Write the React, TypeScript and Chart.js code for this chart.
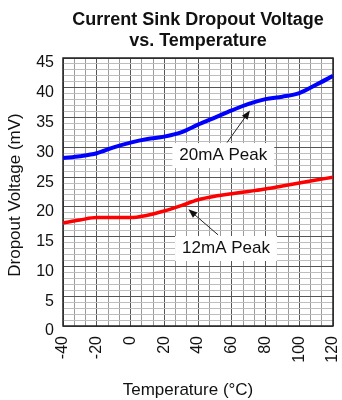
import { useEffect, useRef } from "react";
import { Chart, registerables } from "chart.js";

Chart.register(...registerables);

const FONT = '"Liberation Sans", Arial, Helvetica, sans-serif';

const titleLines = ["Current Sink Dropout Voltage", "vs. Temperature"];
const xAxisTitle = "Temperature (°C)";
const yAxisTitle = "Dropout Voltage (mV)";

const xMajorTicks = [-40, -20, 0, 20, 40, 60, 80, 100, 120];
const xMinorPerMajor = 3;
const yMajorTicks = [0, 5, 10, 15, 20, 25, 30, 35, 40, 45];
const yMinorPerMajor = 5;

const temps20 = [-40, -30, -20, -10, 0, 10, 20, 30, 40, 50, 60, 70, 80, 90, 100, 110, 120];
const peak20 = [28.2, 28.5, 29.0, 30.0, 30.8, 31.4, 31.8, 32.5, 33.8, 35.0, 36.2, 37.3, 38.1, 38.5, 39.1, 40.5, 42.0];

const temps12 = [-40, -30, -20, -10, 0, 10, 20, 30, 40, 50, 60, 70, 80, 90, 100, 110, 120];
const peak12 = [17.3, 17.8, 18.2, 18.2, 18.2, 18.6, 19.3, 20.2, 21.2, 21.8, 22.2, 22.6, 23.0, 23.5, 24.0, 24.5, 25.0];

const seriesColors = ["#0000ff", "#ff0000"];

// annotation labels: text position and arrow in data units
const annoText = ["20mA Peak", "12mA Peak"];
const annoPos = [
  [55, 28.7],
  [56.6, 13.1],
];
const annoArrowFrom = [
  [57.2, 30.8],
  [51.9, 15.3],
];
const annoArrowTo = [
  [70.8, 36.2],
  [34.3, 19.6],
];

function subdivide(majors: number[], n: number): number[] {
  const out: number[] = [];
  for (let i = 0; i < majors.length - 1; i++) {
    const a = majors[i];
    const b = majors[i + 1];
    for (let k = 0; k < n; k++) out.push(a + ((b - a) * k) / n);
  }
  out.push(majors[majors.length - 1]);
  return out;
}

const isMajor = (v: number, majors: number[]) => majors.some((m) => Math.abs(m - v) < 1e-6);

const overlayPlugin = {
  id: "overlay",
  beforeDatasetsDraw(chart: any) {
    const { ctx, chartArea } = chart;
    ctx.save();
    ctx.strokeStyle = "#222";
    ctx.lineWidth = 1.5;
    ctx.strokeRect(chartArea.left, chartArea.top, chartArea.right - chartArea.left, chartArea.bottom - chartArea.top);
    ctx.restore();
  },
  afterDatasetsDraw(chart: any) {
    const { ctx, chartArea, scales } = chart;
    const xs = scales.x;
    const ys = scales.y;
    ctx.save();
    ctx.font = `17px ${FONT}`;
    for (let i = 0; i < annoText.length; i++) {
      const cx = xs.getPixelForValue(annoPos[i][0]);
      const cy = ys.getPixelForValue(annoPos[i][1]);
      const w = ctx.measureText(annoText[i]).width;
      ctx.fillStyle = "#fff";
      ctx.fillRect(cx - w / 2 - 7, cy - 12, w + 14, 25);
      ctx.fillStyle = "#111";
      ctx.textAlign = "center";
      ctx.textBaseline = "middle";
      ctx.fillText(annoText[i], cx, cy);

      const fx = xs.getPixelForValue(annoArrowFrom[i][0]);
      const fy = ys.getPixelForValue(annoArrowFrom[i][1]);
      const tx = xs.getPixelForValue(annoArrowTo[i][0]);
      const ty = ys.getPixelForValue(annoArrowTo[i][1]);
      const ang = Math.atan2(ty - fy, tx - fx);
      const hl = 9;
      const hw = 3.5;
      ctx.strokeStyle = "#222";
      ctx.lineWidth = 1;
      ctx.beginPath();
      ctx.moveTo(fx, fy);
      ctx.lineTo(tx - Math.cos(ang) * hl * 0.8, ty - Math.sin(ang) * hl * 0.8);
      ctx.stroke();
      ctx.fillStyle = "#111";
      ctx.beginPath();
      ctx.moveTo(tx, ty);
      ctx.lineTo(tx - Math.cos(ang) * hl - Math.sin(ang) * hw, ty - Math.sin(ang) * hl + Math.cos(ang) * hw);
      ctx.lineTo(tx - Math.cos(ang) * hl + Math.sin(ang) * hw, ty - Math.sin(ang) * hl - Math.cos(ang) * hw);
      ctx.closePath();
      ctx.fill();
    }

    // axis titles
    ctx.fillStyle = "#111";
    ctx.font = `17px ${FONT}`;
    ctx.textAlign = "center";
    ctx.textBaseline = "middle";
    const midX = (chartArea.left + chartArea.right) / 2;
    ctx.fillText(xAxisTitle, midX - 10, chart.height - 10);
    const midY = (chartArea.top + chartArea.bottom) / 2;
    ctx.translate(15, midY + 3);
    ctx.rotate(-Math.PI / 2);
    ctx.fillText(yAxisTitle, 0, 0);
    ctx.restore();
  },
};

export default function App() {
  const ref = useRef<HTMLCanvasElement | null>(null);

  useEffect(() => {
    if (!ref.current) return;
    const xTicks = subdivide(xMajorTicks, xMinorPerMajor);
    const yTicks = subdivide(yMajorTicks, yMinorPerMajor);
    const chart = new Chart(ref.current, {
      type: "line",
      data: {
        datasets: [
          {
            label: "20mA Peak",
            data: temps20.map((t, i) => ({ x: t, y: peak20[i] })),
            borderColor: seriesColors[0],
            borderWidth: 4,
            pointRadius: 0,
            cubicInterpolationMode: "monotone",
            fill: false,
          },
          {
            label: "12mA Peak",
            data: temps12.map((t, i) => ({ x: t, y: peak12[i] })),
            borderColor: seriesColors[1],
            borderWidth: 3.5,
            pointRadius: 0,
            cubicInterpolationMode: "monotone",
            fill: false,
          },
        ],
      },
      options: {
        animation: false,
        responsive: false,
        devicePixelRatio: 1,
        layout: { padding: { left: 0, right: 9, top: 0, bottom: 0 } },
        plugins: {
          legend: { display: false },
          tooltip: { enabled: false },
          title: {
            display: true,
            fullSize: false,
            text: titleLines,
            color: "#111",
            font: { family: FONT, size: 18, weight: "bold", lineHeight: 1.2 },
            padding: { top: 9, bottom: 5.8 },
          },
        },
        scales: {
          x: {
            type: "linear",
            min: -40,
            max: 120,
            afterBuildTicks: (s: any) => {
              s.ticks = xTicks.map((v) => ({ value: v }));
            },
            afterFit: (s: any) => {
              s.height = 74;
              s.paddingLeft = 0;
              s.paddingRight = 0;
            },
            ticks: {
              autoSkip: false,
              minRotation: 90,
              maxRotation: 90,
              padding: 10,
              color: "#111",
              font: { family: FONT, size: 16 },
              callback: (v: any) => (isMajor(Number(v), xMajorTicks) ? String(Math.round(Number(v))) : ""),
            },
            grid: {
              drawTicks: false,
              lineWidth: 1,
              color: (c: any) => (isMajor(c.tick?.value ?? 0, xMajorTicks) ? "#555" : "#9a9a9a"),
            },
            border: { display: false },
          },
          y: {
            type: "linear",
            min: 0,
            max: 45,
            afterBuildTicks: (s: any) => {
              s.ticks = yTicks.map((v) => ({ value: v }));
            },
            afterFit: (s: any) => {
              s.width = 63;
              s.paddingTop = 0;
              s.paddingBottom = 0;
            },
            ticks: {
              autoSkip: false,
              padding: 9,
              labelOffset: 5,
              color: "#111",
              font: { family: FONT, size: 16 },
              callback: (v: any) => (isMajor(Number(v), yMajorTicks) ? String(Math.round(Number(v))) : ""),
            },
            grid: {
              drawTicks: false,
              lineWidth: 1,
              color: (c: any) => (isMajor(c.tick?.value ?? 0, yMajorTicks) ? "#555" : "#bdbdbd"),
            },
            border: { display: false },
          },
        },
      },
      plugins: [overlayPlugin],
    } as any);
    return () => chart.destroy();
  }, []);

  return (
    <div style={{ position: "fixed", left: 0, top: 0, width: 342, height: 400, background: "#fff" }}>
      <canvas ref={ref} width={342} height={400} style={{ display: "block" }} />
    </div>
  );
}
